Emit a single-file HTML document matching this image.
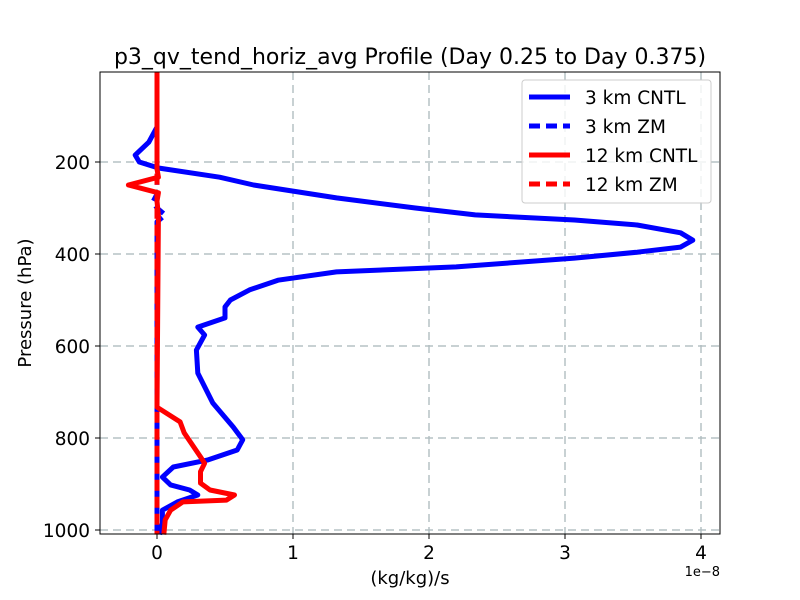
<!DOCTYPE html>
<html><head><meta charset="utf-8"><style>
body{margin:0;background:#fff;}
svg{display:block;font-family:"DejaVu Sans","Liberation Sans",sans-serif;}
</style></head><body>
<svg id="chart" width="800" height="600" xmlns="http://www.w3.org/2000/svg">
<rect width="800" height="600" fill="#fff"/>
<g id="grid"></g>
<g id="series"></g>
<rect x="100" y="72" width="620" height="462" fill="none" stroke="#000" stroke-width="1"/>
<g id="ticks"></g>
<text x="410" y="64" font-size="22" text-anchor="middle">p3_qv_tend_horiz_avg Profile (Day 0.25 to Day 0.375)</text>
<text x="410" y="584" font-size="18" text-anchor="middle">(kg/kg)/s</text>
<text x="31" y="303" font-size="18" text-anchor="middle" transform="rotate(-90 31 303)">Pressure (hPa)</text>
<text x="720" y="576" font-size="13" text-anchor="end">1e−8</text>
<g>
<rect x="522" y="80" width="189" height="123" rx="3" fill="#fff" fill-opacity="0.8" stroke="#ccc"/>
<g><line x1="529" y1="97" x2="570" y2="97" stroke="#0000ff" stroke-width="5"/><text x="585" y="104" font-size="18.5">3 km CNTL</text></g>
<g><line x1="529" y1="126" x2="570" y2="126" stroke="#0000ff" stroke-width="5" stroke-dasharray="11 6"/><text x="585" y="133" font-size="18.5">3 km ZM</text></g>
<g><line x1="529" y1="155" x2="570" y2="155" stroke="#ff0000" stroke-width="5"/><text x="585" y="162" font-size="18.5">12 km CNTL</text></g>
<g><line x1="529" y1="184" x2="570" y2="184" stroke="#ff0000" stroke-width="5" stroke-dasharray="11 6"/><text x="585" y="191" font-size="18.5">12 km ZM</text></g>
</g>
</svg>
<script>
const xTicks=[0,1,2,3,4];
const yTicks=[200,400,600,800,1000];
const cntl3P=[4,124,157,185,200,213,233,250,278,300,315,326,337,354,370,385,396,409,428,439,457,478,500,515,539,559,576,609,659,724,776,804,826,848,863,885,902,913,924,939,957,985,1010];
const cntl3V=[0,0,-0.06,-0.16,-0.13,0.01,0.46,0.71,1.32,1.9,2.34,3.07,3.53,3.85,3.94,3.85,3.53,3.07,2.2,1.32,0.89,0.68,0.54,0.5,0.5,0.3,0.35,0.29,0.3,0.41,0.56,0.63,0.59,0.37,0.12,0.04,0.1,0.24,0.3,0.15,0.04,0.04,0.02];
const zm3P=[4,270,287,300,315,330,1010];
const zm3V=[0,0,-0.03,0,0.06,0,0];
const cntl12P=[4,215,233,250,267,285,317,733,765,789,841,855,873,898,913,924,935,939,957,978,1010];
const cntl12V=[0,0,0.01,-0.21,0.01,0,0.01,0,0.17,0.2,0.32,0.35,0.32,0.32,0.39,0.57,0.51,0.19,0.1,0.06,0.05];
const zm12P=[4,1010];
const zm12V=[0,0];
const xScale=v=>157+v*136;
const yScale=p=>162+(p-200)*0.46;
const NS="http://www.w3.org/2000/svg";
const grid=document.getElementById('grid'),ticks=document.getElementById('ticks'),series=document.getElementById('series');
function mk(t,a){const e=document.createElementNS(NS,t);for(const k in a)e.setAttribute(k,a[k]);return e;}
xTicks.forEach(v=>{const x=xScale(v);
const g=mk('line',{x1:x,x2:x,y1:72,y2:534,stroke:'#b0bec0','stroke-width':2,'stroke-dasharray':'8 5','stroke-opacity':0.7});


grid.appendChild(g);
const t=mk('line',{x1:x,x2:x,y1:534,y2:539,stroke:'#000'});


ticks.appendChild(t);
const l=mk('text',{x:x,y:559,'font-size':18.5,'text-anchor':'middle'});l.textContent=v;


ticks.appendChild(l);});
yTicks.forEach(v=>{const y=yScale(v);
const g=mk('line',{x1:100,x2:720,y1:y,y2:y,stroke:'#b0bec0','stroke-width':2,'stroke-dasharray':'8 5','stroke-opacity':0.7});


grid.appendChild(g);
const t=mk('line',{x1:95,x2:100,y1:y,y2:y,stroke:'#000'});


ticks.appendChild(t);
const l=mk('text',{x:90,y:y+7,'font-size':18.5,'text-anchor':'end'});l.textContent=v;


ticks.appendChild(l);});
function draw(P,V,color,dash,name){
const d=P.map((p,i)=>(i?'L':'M')+xScale(V[i]).toFixed(1)+','+yScale(p).toFixed(1)).join('');
const a={d:d,fill:'none',stroke:color,'stroke-width':5,'stroke-linejoin':'round'};if(dash)a['stroke-dasharray']='11 6';
const e=mk('path',a);


series.appendChild(e);}
draw(cntl3P,cntl3V,'#0000ff',false,'line-3km-cntl');
draw(zm3P,zm3V,'#0000ff',true,'line-3km-zm');
draw(cntl12P,cntl12V,'#ff0000',false,'line-12km-cntl');
draw(zm12P,zm12V,'#ff0000',true,'line-12km-zm');
</script>
</body></html>
